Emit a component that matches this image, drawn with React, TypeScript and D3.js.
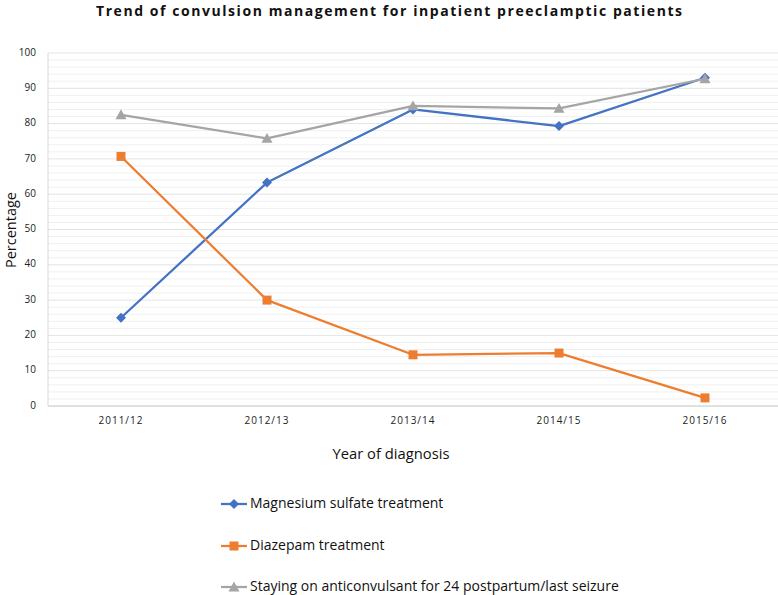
import React from "react";
import * as d3 from "d3";

const categories = ["2011/12", "2012/13", "2013/14", "2014/15", "2015/16"];
const magnesium = [25, 63.3, 84, 79.3, 93];
const diazepam = [70.7, 30, 14.5, 15, 2.3];
const staying = [82.5, 75.8, 85, 84.3, 92.7];
const seriesNames = [
  "Magnesium sulfate treatment",
  "Diazepam treatment",
  "Staying on anticonvulsant for 24 postpartum/last seizure",
];
const seriesColors = ["#4472C4", "#ED7D31", "#A5A5A5"];
const seriesShapes = ["diamond", "square", "triangle"];
const yTicks = [0, 10, 20, 30, 40, 50, 60, 70, 80, 90, 100];

const W = 778;
const H = 595;
const left = 48;
const right = 778;
const top = 53;
const bottom = 406;
const FONT = "'Open Sans', 'Liberation Sans', sans-serif";

function Marker({ shape, x, y, color }: { shape: string; x: number; y: number; color: string }) {
  if (shape === "diamond") {
    const s = 5;
    return <path d={`M${x},${y - s}L${x + s},${y}L${x},${y + s}L${x - s},${y}Z`} fill={color} />;
  }
  if (shape === "square") {
    const s = 4.5;
    return <rect x={x - s} y={y - s} width={2 * s} height={2 * s} fill={color} />;
  }
  const s = 5.5;
  return <path d={`M${x},${y - s}L${x + s},${y + s * 0.8}L${x - s},${y + s * 0.8}Z`} fill={color} />;
}

export default function App() {
  const x = d3.scalePoint<string>().domain(categories).range([left, right]).padding(0.5);
  const y = d3.scaleLinear().domain([0, 100]).range([bottom, top]);
  const minor = d3.range(0, 101, 2);
  const data = [magnesium, diazepam, staying];
  const line = d3
    .line<number>()
    .x((_, i) => x(categories[i]) as number)
    .y((d) => y(d));

  const legendY = [504, 546, 587];

  return (
    <svg width={W} height={H} style={{ position: "absolute", left: 0, top: 0, background: "#fff" }}>
      <rect width={W} height={H} fill="#fff" />
      <text
        x={96}
        y={12}
        textLength={586}
        lengthAdjust="spacing"
        fontFamily={FONT}
        fontWeight="bold"
        fontSize={14}
        fill="#111"
        dominantBaseline="middle"
      >
        Trend of convulsion management for inpatient preeclamptic patients
      </text>
      {minor.map((v) => (
        <line
          key={"m" + v}
          x1={left}
          x2={right}
          y1={y(v)}
          y2={y(v)}
          stroke={v % 10 === 0 ? "#e3e3e3" : "#f0f0f0"}
          strokeWidth={1}
        />
      ))}
      <line x1={left} x2={left} y1={top} y2={bottom} stroke="#d9d9d9" strokeWidth={1} />
      <line x1={left} x2={right} y1={bottom} y2={bottom} stroke="#d0d0d0" strokeWidth={1} />
      {yTicks.map((v) => (
        <text
          key={"yt" + v}
          x={36}
          y={y(v)}
          textAnchor="end"
          dominantBaseline="middle"
          fontFamily={FONT}
          fontSize={10}
          fill="#222"
        >
          {v}
        </text>
      ))}
      {categories.map((c) => (
        <text
          key={c}
          x={x(c)}
          y={421}
          textAnchor="middle"
          dominantBaseline="middle"
          fontFamily={FONT}
          fontSize={10}
          letterSpacing={1}
          fill="#222"
        >
          {c}
        </text>
      ))}
      <text
        x={391}
        y={455}
        textAnchor="middle"
        dominantBaseline="middle"
        fontFamily={FONT}
        fontSize={15}
        textLength={117}
        lengthAdjust="spacingAndGlyphs"
        fill="#111"
      >
        Year of diagnosis
      </text>
      <text
        transform={`translate(4,230) rotate(-90)`}
        textAnchor="middle"
        dominantBaseline="hanging"
        fontFamily={FONT}
        fontSize={14}
        textLength={76}
        lengthAdjust="spacingAndGlyphs"
        fill="#111"
      >
        Percentage
      </text>
      {data.map((s, si) => (
        <g key={"s" + si}>
          <path d={line(s) || ""} fill="none" stroke={seriesColors[si]} strokeWidth={2.25} strokeLinejoin="round" />
          {s.map((v, i) => (
            <Marker key={i} shape={seriesShapes[si]} x={x(categories[i]) as number} y={y(v)} color={seriesColors[si]} />
          ))}
        </g>
      ))}
      {seriesNames.map((n, i) => (
        <g key={n}>
          <line x1={221} x2={247} y1={legendY[i]} y2={legendY[i]} stroke={seriesColors[i]} strokeWidth={2.25} />
          <Marker shape={seriesShapes[i]} x={234} y={legendY[i]} color={seriesColors[i]} />
          <text
            x={250}
            y={legendY[i]}
            dominantBaseline="middle"
            fontFamily={FONT}
            fontSize={14}
            fill="#111"
          >
            {n}
          </text>
        </g>
      ))}
    </svg>
  );
}
